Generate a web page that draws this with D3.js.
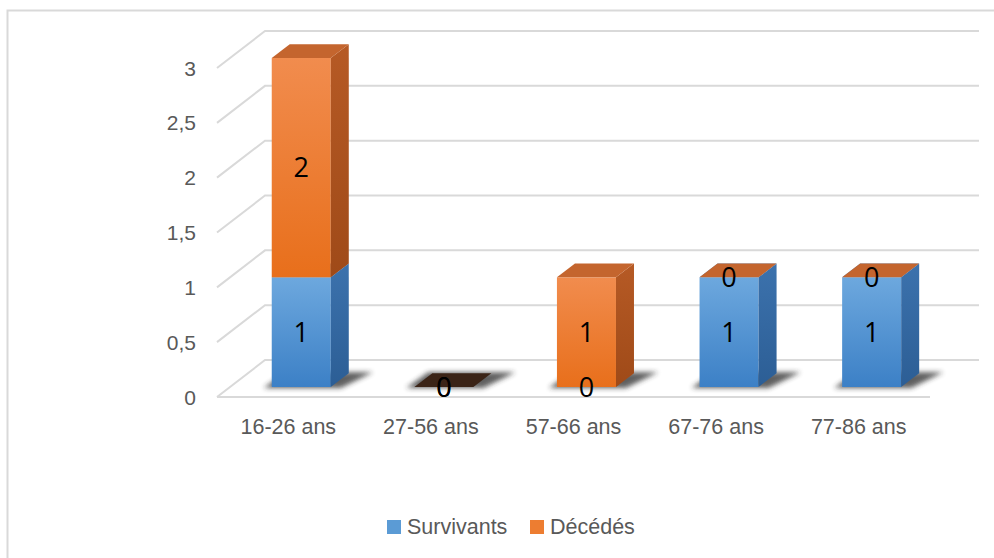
<!DOCTYPE html>
<html>
<head>
<meta charset="utf-8">
<script src="https://cdn.jsdelivr.net/npm/d3@7"></script>
<style>
  html, body { margin: 0; padding: 0; background: #ffffff; }
  svg { display: block; }
</style>
</head>
<body>
<svg id="chart" width="994" height="558"></svg>
<script>
// Age groups and counts per outcome
const categories = ["16-26 ans", "27-56 ans", "57-66 ans", "67-76 ans", "77-86 ans"];
const survivants = [1, 0, 0, 1, 1];
const decedes = [2, 0, 1, 0, 0];
const yTicks = [0, 0.5, 1, 1.5, 2, 2.5, 3];
const seriesNames = ["Survivants", "Décédés"];

const svg = d3.select("#chart");
const defs = svg.append("defs");

// Outer frame
svg.append("path")
  .attr("d", "M7.5,558 V10.5 H994")
  .attr("fill", "none").attr("stroke", "#d9d9d9").attr("stroke-width", 2);

// Oblique 3D projection: front plane + depth vector
const front = { x0: 217, x1: 930 };
const depth = { dx: 48, dy: -37 };
const barDepth0 = 0.27, barDepthSize = 0.375;

const y = d3.scaleLinear().domain([0, 3]).range([397, 68]);
const x = d3.scaleBand().domain(categories).range([front.x0, front.x1]).padding(0);
const barW = x.bandwidth() * 0.414;

// Gradients
function vGrad(id, c0, c1) {
  const g = defs.append("linearGradient").attr("id", id)
    .attr("x1", 0).attr("y1", 0).attr("x2", 0).attr("y2", 1);
  g.append("stop").attr("offset", "0%").attr("stop-color", c0);
  g.append("stop").attr("offset", "100%").attr("stop-color", c1);
}
function hGrad(id, c0, c1) {
  const g = defs.append("linearGradient").attr("id", id)
    .attr("x1", 0).attr("y1", 0).attr("x2", 1).attr("y2", 0);
  g.append("stop").attr("offset", "0%").attr("stop-color", c0);
  g.append("stop").attr("offset", "100%").attr("stop-color", c1);
}
vGrad("blueFront", "#6da8de", "#3c80c6");
vGrad("blueSide", "#3c72ad", "#2c5e95");
vGrad("orangeFront", "#f18c4e", "#e86f1b");
vGrad("orangeSide", "#b65a25", "#9f4a18");
hGrad("gridSoft", "#d9d9d9", "#d9d9d9");

const styles = [
  { front: "url(#blueFront)", side: "url(#blueSide)", top: "#5a92cc" },
  { front: "url(#orangeFront)", side: "url(#orangeSide)", top: "#c4652e" }
];

// Soft blur filters
const blur = defs.append("filter").attr("id", "shadowBlur")
  .attr("x", "-50%").attr("y", "-200%").attr("width", "200%").attr("height", "500%");
blur.append("feGaussianBlur").attr("stdDeviation", 2.6);
const soft = defs.append("filter").attr("id", "soft")
  .attr("x", "-5%").attr("y", "-50%").attr("width", "110%").attr("height", "200%");
soft.append("feGaussianBlur").attr("stdDeviation", 0.6);

// Walls: gridlines on the back wall and the left side wall
const grid = svg.append("g").attr("filter", "url(#soft)");
yTicks.forEach(t => {
  const yf = y(t);
  grid.append("path")
    .attr("d", `M${front.x0},${yf} L${front.x0 + depth.dx},${yf + depth.dy} L${front.x1 + depth.dx + 1},${yf + depth.dy}`)
    .attr("fill", "none").attr("stroke", "#d9d9d9").attr("stroke-width", 2);
});
// Front edge of the floor
grid.append("line")
  .attr("x1", front.x0).attr("x2", front.x1)
  .attr("y1", y(0)).attr("y2", y(0))
  .attr("stroke", "#d9d9d9").attr("stroke-width", 2);

// Y axis labels
svg.append("g").selectAll("text").data(yTicks).join("text")
  .attr("x", 196).attr("y", d => y(d))
  .attr("dy", "0.36em")
  .attr("text-anchor", "end")
  .attr("font-family", "Liberation Sans, Arial, sans-serif")
  .attr("font-size", 21).attr("fill", "#595959")
  .text(d => String(d).replace(".", ","));

// X axis labels
svg.append("g").selectAll("text").data(categories).join("text")
  .attr("x", d => x(d) + x.bandwidth() / 2).attr("y", 434)
  .attr("text-anchor", "middle")
  .attr("font-family", "Liberation Sans, Arial, sans-serif")
  .attr("font-size", 21.5).attr("fill", "#595959")
  .text(d => d);

// Bars
const offF = { dx: depth.dx * barDepth0, dy: depth.dy * barDepth0 };
const offD = { dx: depth.dx * barDepthSize, dy: depth.dy * barDepthSize };
const baseShift = y(0) + offF.dy - y(0); // vertical shift of bar front plane

const bars = svg.append("g");
const labels = [];

categories.forEach((cat, i) => {
  const vals = [survivants[i], decedes[i]];
  const total = vals[0] + vals[1];
  const fx0 = x(cat) + (x.bandwidth() - barW) / 2 + offF.dx;
  const fx1 = fx0 + barW;
  const by = y(0) + offF.dy;

  // Soft floor shadow under the bar
  bars.append("polygon")
    .attr("points", [
      [fx0 - 8, by + 1], [fx1 + 10, by + 1],
      [fx1 + offD.dx + 24, by + offD.dy - 1], [fx0 + offD.dx - 4, by + offD.dy - 1]
    ].map(p => p.join(",")).join(" "))
    .attr("fill", "#2a2a2a").attr("opacity", 0.75)
    .attr("filter", "url(#shadowBlur)");

  let acc = 0;
  vals.forEach((v, s) => {
    const yb = y(acc) + offF.dy;
    const yt = y(acc + v) + offF.dy;
    const st = styles[s];
    if (v > 0) {
      bars.append("rect")
        .attr("x", fx0).attr("y", yt)
        .attr("width", barW).attr("height", yb - yt)
        .attr("fill", st.front);
      bars.append("polygon")
        .attr("points", [
          [fx1, yt], [fx1 + offD.dx, yt + offD.dy],
          [fx1 + offD.dx, yb + offD.dy], [fx1, yb]
        ].map(p => p.join(",")).join(" "))
        .attr("fill", st.side);
    }
    const isTop = s === vals.length - 1;
    if (isTop || v > 0) {
      bars.append("polygon")
        .attr("points", [
          [fx0, yt], [fx1, yt],
          [fx1 + offD.dx, yt + offD.dy], [fx0 + offD.dx, yt + offD.dy]
        ].map(p => p.join(",")).join(" "))
        .attr("fill", total === 0 ? "#3b2417" : st.top);
    }
    labels.push({ x: (fx0 + fx1) / 2, y: (yb + yt) / 2, v });
    acc += v;
  });
});

// Value labels
svg.append("g").selectAll("text").data(labels).join("text")
  .attr("x", d => d.x).attr("y", d => d.y)
  .attr("dy", "0.36em")
  .attr("text-anchor", "middle")
  .attr("font-family", "Open Sans, Noto Sans, sans-serif")
  .attr("font-size", 27).attr("fill", "#000000")
  .text(d => d.v);

// Legend
const legend = svg.append("g");
const legendItems = [
  { name: seriesNames[0], color: "#5b9bd5", x: 387 },
  { name: seriesNames[1], color: "#ed7d31", x: 530 }
];
legendItems.forEach(it => {
  legend.append("rect").attr("x", it.x).attr("y", 520)
    .attr("width", 14).attr("height", 14).attr("fill", it.color);
  legend.append("text").attr("x", it.x + 20).attr("y", 534)
    .attr("font-family", "Liberation Sans, Arial, sans-serif")
    .attr("font-size", 21.5).attr("fill", "#595959")
    .text(it.name);
});
</script>
</body>
</html>
